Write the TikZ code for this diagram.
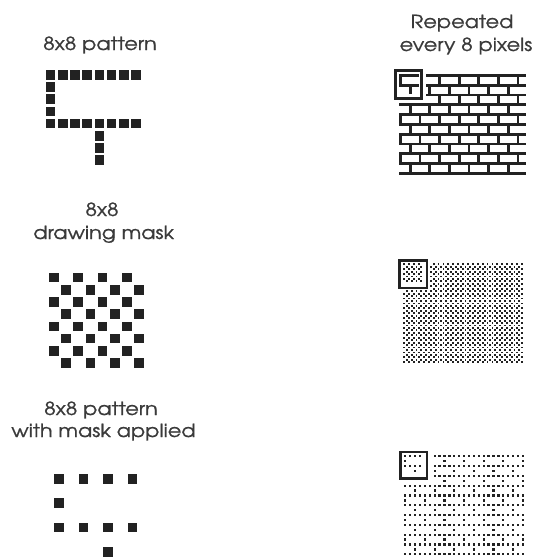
\documentclass[tikz,border=0pt]{standalone}
\usepackage{fontspec}
\setmainfont{texgyreadventor-regular.otf}
\newfontfamily\lblfont{texgyreadventor-regular.otf}[FakeBold=0.8]
\definecolor{ink}{HTML}{222222}
\definecolor{txt}{HTML}{3A3A3A}
\tikzset{
  lbl/.style={anchor=base, text=txt, inner sep=0pt, xscale=1.16, font=\lblfont\fontsize{18}{21}\selectfont},
  bigpix/.style={fill=ink},
  framebox/.style={draw=ink, line width=2.7pt},
  clearzone/.style={fill=white}
}
\begin{document}
\begin{tikzpicture}[x=1pt,y=-1pt]
\useasboundingbox (0,0) rectangle (539,557);
% ---------- labels
\node[lbl] (t1) at (100,50) {8x8 pattern};
\node[lbl] (t2a) at (102,216) {8x8};
\node[lbl] (t2b) at (103.7,239) {drawing mask};
\node[lbl] (t3a) at (101,415) {8x8 pattern};
\node[lbl] (t3b) at (103.5,437) {with mask applied};
\node[lbl] (t4a) at (462,28) {Repeated};
\node[lbl] (t4b) at (466,51) {every 8 pixels};
% ---------- left: 8x8 pattern
\def\P{12.2}\def\S{9.6}
\foreach \c in {0,...,7}{
  \fill[bigpix] ({45.7+\c*\P},70) rectangle ++(\S,\S);
  \fill[bigpix] ({45.7+\c*\P},{70+4*\P}) rectangle ++(\S,\S);
}
\foreach \r in {1,2,3}{\fill[bigpix] (45.7,{70+\r*\P}) rectangle ++(\S,\S);}
\foreach \r in {5,6,7}{\fill[bigpix] ({45.7+4*\P},{70+\r*\P}) rectangle ++(\S,\S);}
% ---------- left: mask
\foreach \r in {0,...,7}{
  \pgfmathtruncatemacro\s{mod(\r,2)}
  \foreach \k in {0,...,3}{
    \fill[bigpix] ({49+(2*\k+\s)*\P},{272.7+\r*\P}) rectangle ++(\S,\S);
  }
}
% ---------- left: pattern with mask
\foreach \c in {0,2,4,6}{
  \fill[bigpix] ({54.3+\c*\P},474) rectangle ++(\S,\S);
  \fill[bigpix] ({54.3+\c*\P},{474+4*\P}) rectangle ++(\S,\S);
}
\fill[bigpix] (54.3,{474+2*\P}) rectangle ++(\S,\S);
\fill[bigpix] ({54.3+4*\P},{474+6*\P}) rectangle ++(\S,\S);
% ---------- right: bricks
\def\p{2.45}\def\t{2.75}
\foreach \k in {0,...,10}{
  \fill[ink] (399,{74+4*\k*\p}) rectangle (526.4,{74+4*\k*\p+\t});
}
\foreach \k in {0,...,9}{
  \pgfmathtruncatemacro\o{mod(\k,2)*4}
  \pgfmathtruncatemacro\oo{\o+8}
  \foreach \c in {\o,\oo,...,51}{
    \fill[ink] ({399+\c*\p},{74+(4*\k+1)*\p}) rectangle ++(\t,{3*\p});
  }
}
\fill[clearzone] (390,65) rectangle (425.6,103);
\fill[ink] (399,74) rectangle ({399+8*\p},{74+\t});
\fill[ink] (399,{74+4*\p}) rectangle ({399+8*\p},{74+4*\p+\t});
\fill[ink] (399,{74+\p}) rectangle ++(\t,{3*\p});
\fill[ink] ({399+4*\p},{74+5*\p}) rectangle ++(\t,{3*\p});
\draw[framebox] (395.3,70.3) rectangle (421.7,98.7);
% ---------- right: mask tiled
\def\d{1.85}
\foreach \r in {0,...,40}{
  \pgfmathtruncatemacro\s{mod(\r,2)}
  \pgfmathtruncatemacro\ss{\s+2}
  \foreach \c in {\s,\ss,...,48}{
    \fill[ink] ({403+\c*\p+0.3},{263+\r*\p+0.3}) rectangle ++(\d,\d);
  }
}
\fill[clearzone] (395,256) rectangle (429.8,289.8);
\foreach \r in {0,...,7}{
  \pgfmathtruncatemacro\s{mod(\r,2)}
  \pgfmathtruncatemacro\ss{\s+2}
  \foreach \c in {\s,\ss,...,7}{
    \fill[ink] ({403+\c*\p+0.3},{263+\r*\p+0.3}) rectangle ++(\d,\d);
  }
}
\draw[framebox] (399.6,260.6) rectangle (427,288);
% ---------- right: pattern with mask tiled
\def\e{2.3}
\foreach \r in {0,4,...,40}{
  \foreach \c in {0,2,...,48}{
    \fill[ink] ({404+\c*\p+0.1},{455+\r*\p+0.1}) rectangle ++(\e,\e);
  }
}
\foreach \r in {2,10,...,41}{
  \foreach \c in {0,8,...,48}{
    \fill[ink] ({404+\c*\p+0.1},{455+\r*\p+0.1}) rectangle ++(\e,\e);
  }
}
\foreach \r in {6,14,...,41}{
  \foreach \c in {4,12,...,48}{
    \fill[ink] ({404+\c*\p+0.1},{455+\r*\p+0.1}) rectangle ++(\e,\e);
  }
}
\fill[clearzone] (395,446) rectangle (430.5,482);
\foreach \c in {0,2,4,6}{
  \fill[ink] ({404+\c*\p+0.1},455.1) rectangle ++(\e,\e);
  \fill[ink] ({404+\c*\p+0.1},{455+4*\p+0.1}) rectangle ++(\e,\e);
}
\fill[ink] (404.1,{455+2*\p+0.1}) rectangle ++(\e,\e);
\fill[ink] ({404+4*\p+0.1},{455+6*\p+0.1}) rectangle ++(\e,\e);
\draw[framebox] (400.6,452) rectangle (427,478.7);
\end{tikzpicture}
\end{document}
